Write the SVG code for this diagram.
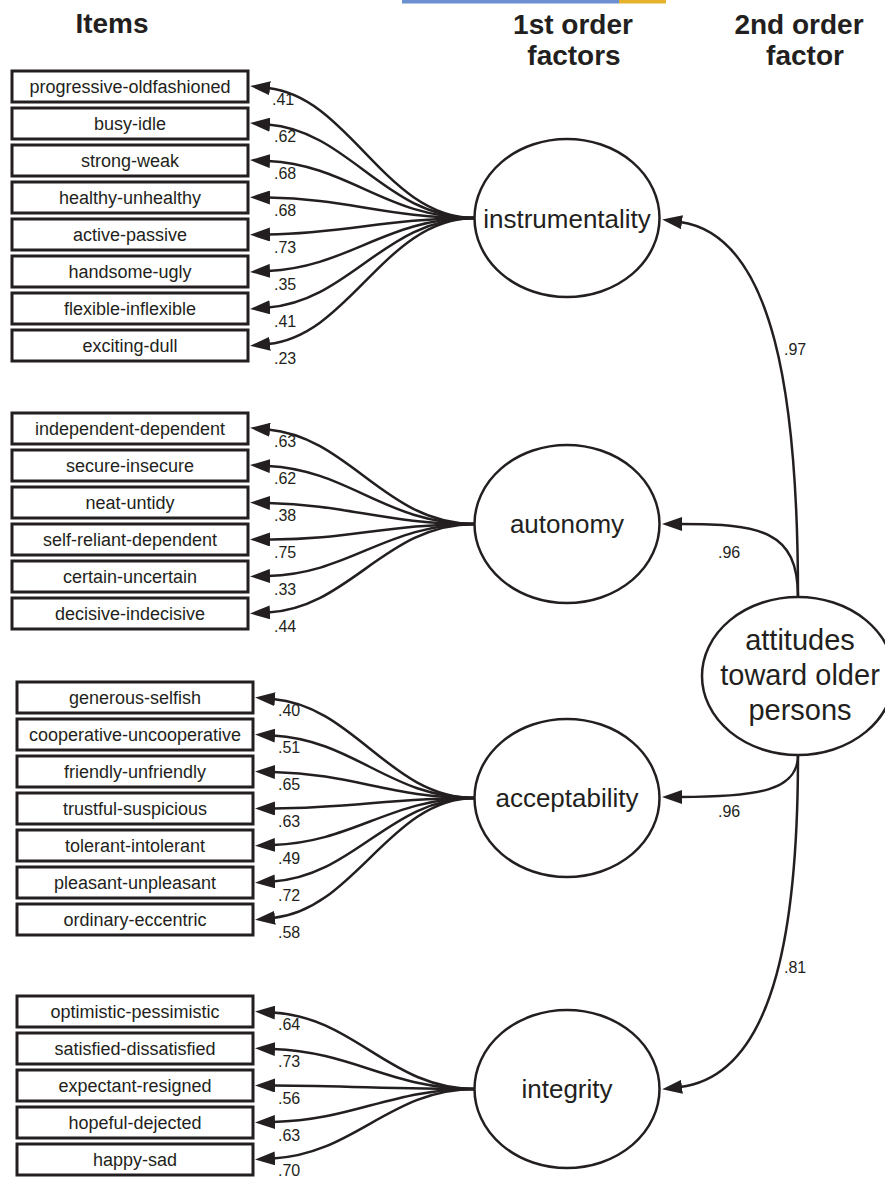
<svg xmlns="http://www.w3.org/2000/svg" width="885" height="1177" viewBox="0 0 885 1177">
<style>
text{font-family:"Liberation Sans",Arial,sans-serif;fill:#231f20}
.hdr{font-size:28px;font-weight:bold;text-anchor:middle}
.box rect{fill:#fff;stroke:#231f20;stroke-width:3}
.box text{font-size:18px;text-anchor:middle}
.lv{font-size:16px}
.fac ellipse{fill:#fff;stroke:#231f20;stroke-width:2.5}
.fac text{font-size:26px;text-anchor:middle}
.sec text{font-size:29px;text-anchor:middle}
.con path{fill:none;stroke:#231f20;stroke-width:2.5;marker-end:url(#ah)}
</style>
<defs>
<marker id="ah" markerUnits="userSpaceOnUse" markerWidth="20" markerHeight="14" viewBox="0 0 20 14" refX="2" refY="7" orient="auto">
<path d="M0,0 L20,7 L0,14 z" fill="#231f20"/>
</marker>
</defs>
<rect x="402" y="0" width="217" height="3.5" fill="#6b8fcf"/>
<rect x="619" y="0" width="47" height="3.5" fill="#e6b12c"/>
<g id="headers">
<text class="hdr" x="112" y="33">Items</text>
<text class="hdr" x="573" y="34">1st order</text>
<text class="hdr" x="574" y="65">factors</text>
<text class="hdr" x="799" y="34">2nd order</text>
<text class="hdr" x="805" y="65">factor</text>
</g>
<g id="connectors" class="con">
<path d="M475,218 C385,218 350,97 268,88"/>
<path d="M475,218 C385,218 350,131 268,124.5"/>
<path d="M475,218 C385,218 350,165 268,161"/>
<path d="M475,218 C385,218 350,199 268,197.5"/>
<path d="M475,218 C385,218 350,233 268,234.5"/>
<path d="M475,218 C385,218 350,267 268,271"/>
<path d="M475,218 C385,218 350,301 268,307.5"/>
<path d="M475,218 C385,218 350,336 268,344"/>
<path d="M475,524 C385,524 350,437 268,429.5"/>
<path d="M475,524 C385,524 350,470 268,466"/>
<path d="M475,524 C385,524 350,505 268,503"/>
<path d="M475,524 C385,524 350,540 268,539.5"/>
<path d="M475,524 C385,524 350,574 268,576"/>
<path d="M475,524 C385,524 350,608 268,612.5"/>
<path d="M475,798 C390,798 355,706 273,699"/>
<path d="M475,798 C390,798 355,740 273,735.5"/>
<path d="M475,798 C390,798 355,774 273,772"/>
<path d="M475,798 C390,798 355,808 273,808.5"/>
<path d="M475,798 C390,798 355,842 273,845"/>
<path d="M475,798 C390,798 355,876 273,881.5"/>
<path d="M475,798 C390,798 355,910 273,918"/>
<path d="M475,1089 C390,1089 355,1017 273,1012.5"/>
<path d="M475,1089 C390,1089 355,1052 273,1049"/>
<path d="M475,1089 C390,1089 355,1086 273,1085.5"/>
<path d="M475,1089 C390,1089 355,1120 273,1122"/>
<path d="M475,1089 C390,1089 355,1154 273,1158.5"/>
<path d="M798,597 C798,400 775,235 680,222"/>
<path d="M798,597 C798,530 760,524 680,524"/>
<path d="M798,755 C798,790 760,797 680,797"/>
<path d="M798,755 C798,910 780,1075 680,1087"/>
</g>
<g id="loadings" class="lv">
<text x="272" y="105">.41</text>
<text x="274" y="142">.62</text>
<text x="274" y="179">.68</text>
<text x="274" y="216">.68</text>
<text x="274" y="253">.73</text>
<text x="274" y="290">.35</text>
<text x="274" y="327">.41</text>
<text x="274" y="364">.23</text>
<text x="274" y="447">.63</text>
<text x="274" y="484">.62</text>
<text x="274" y="521">.38</text>
<text x="274" y="558">.75</text>
<text x="274" y="595">.33</text>
<text x="274" y="632">.44</text>
<text x="278" y="716">.40</text>
<text x="278" y="753">.51</text>
<text x="278" y="790">.65</text>
<text x="278" y="827">.63</text>
<text x="278" y="864">.49</text>
<text x="278" y="901">.72</text>
<text x="278" y="938">.58</text>
<text x="278" y="1030">.64</text>
<text x="278" y="1067">.73</text>
<text x="278" y="1104">.56</text>
<text x="278" y="1141">.63</text>
<text x="278" y="1176">.70</text>
<text x="784" y="355">.97</text>
<text x="718" y="558">.96</text>
<text x="718" y="817">.96</text>
<text x="784" y="973">.81</text>
</g>
<g id="items-instrumentality" class="box">
<g id="item-progressive-oldfashioned"><rect x="12" y="71" width="236" height="31"/><text x="130" y="93">progressive-oldfashioned</text></g>
<g id="item-busy-idle"><rect x="12" y="108" width="236" height="31"/><text x="130" y="130">busy-idle</text></g>
<g id="item-strong-weak"><rect x="12" y="145" width="236" height="31"/><text x="130" y="167">strong-weak</text></g>
<g id="item-healthy-unhealthy"><rect x="12" y="182" width="236" height="31"/><text x="130" y="204">healthy-unhealthy</text></g>
<g id="item-active-passive"><rect x="12" y="219" width="236" height="31"/><text x="130" y="241">active-passive</text></g>
<g id="item-handsome-ugly"><rect x="12" y="256" width="236" height="31"/><text x="130" y="278">handsome-ugly</text></g>
<g id="item-flexible-inflexible"><rect x="12" y="293" width="236" height="31"/><text x="130" y="315">flexible-inflexible</text></g>
<g id="item-exciting-dull"><rect x="12" y="330" width="236" height="31"/><text x="130" y="352">exciting-dull</text></g>
</g>
<g id="items-autonomy" class="box">
<g id="item-independent-dependent"><rect x="12" y="413" width="236" height="31"/><text x="130" y="435">independent-dependent</text></g>
<g id="item-secure-insecure"><rect x="12" y="450" width="236" height="31"/><text x="130" y="472">secure-insecure</text></g>
<g id="item-neat-untidy"><rect x="12" y="487" width="236" height="31"/><text x="130" y="509">neat-untidy</text></g>
<g id="item-self-reliant-dependent"><rect x="12" y="524" width="236" height="31"/><text x="130" y="546">self-reliant-dependent</text></g>
<g id="item-certain-uncertain"><rect x="12" y="561" width="236" height="31"/><text x="130" y="583">certain-uncertain</text></g>
<g id="item-decisive-indecisive"><rect x="12" y="598" width="236" height="31"/><text x="130" y="620">decisive-indecisive</text></g>
</g>
<g id="items-acceptability" class="box">
<g id="item-generous-selfish"><rect x="17" y="682" width="236" height="31"/><text x="135" y="704">generous-selfish</text></g>
<g id="item-cooperative-uncooperative"><rect x="17" y="719" width="236" height="31"/><text x="135" y="741">cooperative-uncooperative</text></g>
<g id="item-friendly-unfriendly"><rect x="17" y="756" width="236" height="31"/><text x="135" y="778">friendly-unfriendly</text></g>
<g id="item-trustful-suspicious"><rect x="17" y="793" width="236" height="31"/><text x="135" y="815">trustful-suspicious</text></g>
<g id="item-tolerant-intolerant"><rect x="17" y="830" width="236" height="31"/><text x="135" y="852">tolerant-intolerant</text></g>
<g id="item-pleasant-unpleasant"><rect x="17" y="867" width="236" height="31"/><text x="135" y="889">pleasant-unpleasant</text></g>
<g id="item-ordinary-eccentric"><rect x="17" y="904" width="236" height="31"/><text x="135" y="926">ordinary-eccentric</text></g>
</g>
<g id="items-integrity" class="box">
<g id="item-optimistic-pessimistic"><rect x="17" y="996" width="236" height="31"/><text x="135" y="1018">optimistic-pessimistic</text></g>
<g id="item-satisfied-dissatisfied"><rect x="17" y="1033" width="236" height="31"/><text x="135" y="1055">satisfied-dissatisfied</text></g>
<g id="item-expectant-resigned"><rect x="17" y="1070" width="236" height="31"/><text x="135" y="1092">expectant-resigned</text></g>
<g id="item-hopeful-dejected"><rect x="17" y="1107" width="236" height="31"/><text x="135" y="1129">hopeful-dejected</text></g>
<g id="item-happy-sad"><rect x="17" y="1144" width="236" height="31"/><text x="135" y="1166">happy-sad</text></g>
</g>
<g id="factor-instrumentality" class="fac"><ellipse cx="567" cy="218" rx="92.5" ry="79"/><text x="567" y="228">instrumentality</text></g>
<g id="factor-autonomy" class="fac"><ellipse cx="567" cy="524" rx="92.5" ry="79"/><text x="567" y="533">autonomy</text></g>
<g id="factor-acceptability" class="fac"><ellipse cx="567" cy="798" rx="92.5" ry="79"/><text x="567" y="807">acceptability</text></g>
<g id="factor-integrity" class="fac"><ellipse cx="567" cy="1089" rx="92.5" ry="79"/><text x="567" y="1098">integrity</text></g>
<g id="factor-attitudes" class="fac sec"><ellipse cx="798" cy="676" rx="96" ry="79"/><text x="800" y="650">attitudes</text><text x="800" y="685">toward older</text><text x="800" y="720">persons</text></g>
</svg>
